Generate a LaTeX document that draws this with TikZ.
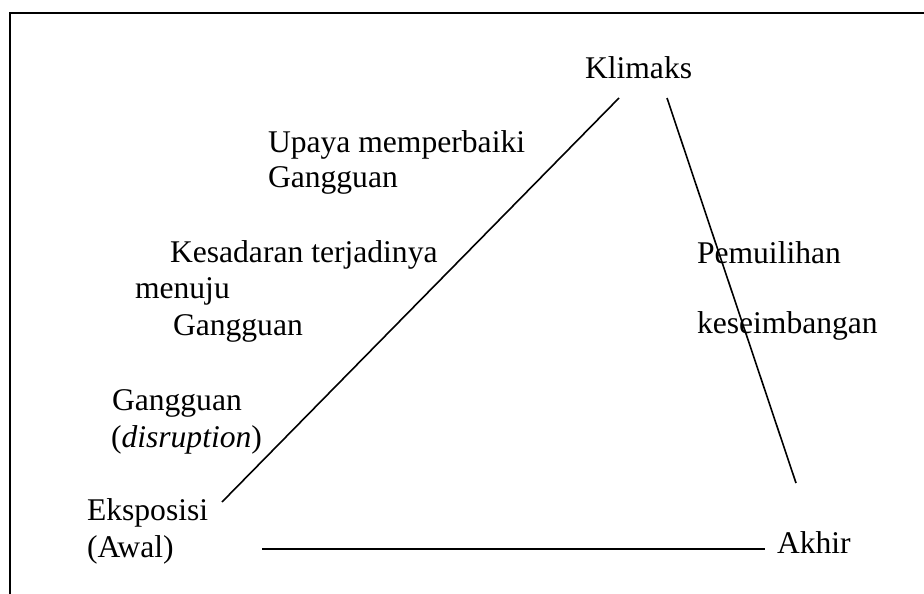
\documentclass[tikz,border=0pt]{standalone}
\usepackage{fontspec}
\setmainfont{Liberation Serif}
\begin{document}
\begin{tikzpicture}[x=1pt,y=-1pt,
  lbl/.style={anchor=base west,inner sep=0pt,outer sep=0pt,font=\fontsize{31.6}{36}\selectfont},
  frameline/.style={line width=2.2pt},
  plotline/.style={line width=1.6pt}]
\useasboundingbox (0,0) rectangle (924,594);
\draw[frameline] (10,594) -- (10,13) -- (924,13);
% labels
\node[lbl] (klimaks) at (585,78) {Klimaks};
\node[lbl] (upaya1) at (268,152) {Upaya memperbaiki};
\node[lbl] (upaya2) at (268,187) {Gangguan};
\node[lbl] (kes1) at (170,262) {Kesadaran terjadinya};
\node[lbl] (kes2) at (135,298) {menuju};
\node[lbl] (kes3) at (173,335) {Gangguan};
\node[lbl] (gang1) at (112,410) {Gangguan};
\node[lbl] (gang2) at (111,447) {(\textit{disruption})};
\node[lbl] (eks1) at (87,520) {Eksposisi};
\node[lbl] (eks2) at (87,557) {(Awal)};
\node[lbl] (pem1) at (697,263) {Pemuilihan};
\node[lbl] (pem2) at (697,333) {keseimbangan};
\node[lbl] (akhir) at (777,553) {Akhir};
% line end points
\coordinate (a1) at (222,502);
\coordinate (a2) at (619,98);
\coordinate (b1) at (667,98);
\coordinate (b2) at (796,483);
\coordinate (c1) at (262,549);
\coordinate (c2) at (765,549);
\draw[plotline] (a1) -- (a2);
\draw[plotline] (b1) -- (b2);
\draw[plotline] (c1) -- (c2);
\end{tikzpicture}
\end{document}
